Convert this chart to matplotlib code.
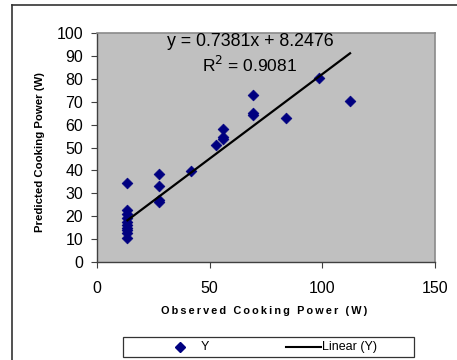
import matplotlib
matplotlib.use("Agg")
import matplotlib.pyplot as plt
from matplotlib.lines import Line2D
from matplotlib.patches import Rectangle
import numpy as np

plt.rcParams['font.family'] = ['Liberation Sans', 'DejaVu Sans']

# Data
observed = [13.5, 13.5, 13.5, 13.5, 13.5, 13.5, 13.5, 13.5, 13.5, 13.5,
            27.3, 27.3, 27.3, 27.3,
            41.8, 53.0, 56.0, 56.0, 56.0,
            69.4, 69.4, 69.4, 83.9, 98.4, 112.3]
predicted = [34.5, 22.5, 21.0, 19.0, 17.5, 16.0, 15.0, 14.0, 12.5, 10.5,
             38.3, 33.2, 27.0, 26.0,
             39.8, 51.0, 57.9, 54.8, 53.5,
             72.8, 65.0, 64.0, 63.0, 80.3, 70.2]
slope = 0.7381
intercept = 8.2476
r2 = 0.9081
x_ticks = [0, 50, 100, 150]
y_ticks = [0, 10, 20, 30, 40, 50, 60, 70, 80, 90, 100]

W, H = 457, 360
fig = plt.figure(figsize=(W / 100, H / 100), dpi=100)
fig.patch.set_facecolor('white')

ax = fig.add_axes([97 / W, 1 - 262 / H, (435 - 97) / W, (262 - 33) / H])
ax.set_facecolor('#C0C0C0')

ax.scatter(observed, predicted, marker='D', s=30, color='#000080',
           edgecolors='#000080', linewidths=0.5, zorder=3)

xfit = np.array([min(observed), max(observed)])
ax.plot(xfit, slope * xfit + intercept, color='black', lw=1.6, zorder=4)

ax.set_xlim(0, 150)
ax.set_ylim(0, 100)
ax.set_xticks(x_ticks)
ax.set_yticks(y_ticks)
ax.tick_params(axis='both', direction='out', length=4, width=0.8,
               colors='#404040', labelcolor='black', labelsize=11.5)
ax.tick_params(axis='x', pad=9.5)
ax.tick_params(axis='y', pad=6)

for s in ['left', 'bottom']:
    ax.spines[s].set_color('#404040')
    ax.spines[s].set_linewidth(1.0)
for s in ['top', 'right']:
    ax.spines[s].set_color('#8a8a8a')
    ax.spines[s].set_linewidth(1.2)

fig.text(250 / W, 1 - 41 / H, f"y = {slope}x + {intercept}",
         ha='center', va='center', fontsize=12.8)
fig.text(250 / W, 1 - 65 / H, f"R$^2$ = {r2}",
         ha='center', va='center', fontsize=12.5)

xlabel = "Observed Cooking Power (W)"
fig.text(264 / W, 1 - 311 / H, "\u2009".join(xlabel), ha='center', va='center',
         fontsize=7.8, fontweight='bold')
fig.text(40 / W, 1 - 152 / H, "Predicted Cooking Power (W)", rotation=90,
         ha='center', va='center', fontsize=8.2, fontweight='bold',
         family=['Liberation Sans Narrow', 'Liberation Sans', 'DejaVu Sans'])

# outer chart frame (top and left edges visible)
fig.add_artist(Line2D([12 / W, 12 / W], [0, 1 - 5 / H], color='#333333', lw=1.2))
fig.add_artist(Line2D([12 / W, 1], [1 - 5 / H, 1 - 5 / H], color='#333333', lw=1.2))

# legend box
fig.add_artist(Rectangle((123 / W, 1 - 357 / H), (414 - 123) / W, 20 / H,
                         transform=fig.transFigure, facecolor='white',
                         edgecolor='#333333', lw=0.9))
fig.add_artist(Line2D([180 / W], [1 - 347 / H], marker='D', markersize=5.5,
                      color='#000080', linestyle='none'))
fig.text(201 / W, 1 - 347 / H, "Y", ha='left', va='center', fontsize=9)
fig.add_artist(Line2D([286 / W, 321 / W], [1 - 347 / H, 1 - 347 / H],
                      color='black', lw=1.5))
fig.text(322 / W, 1 - 347 / H, "Linear (Y)", ha='left', va='center', fontsize=9)

fig.savefig("out.png", dpi=100)
